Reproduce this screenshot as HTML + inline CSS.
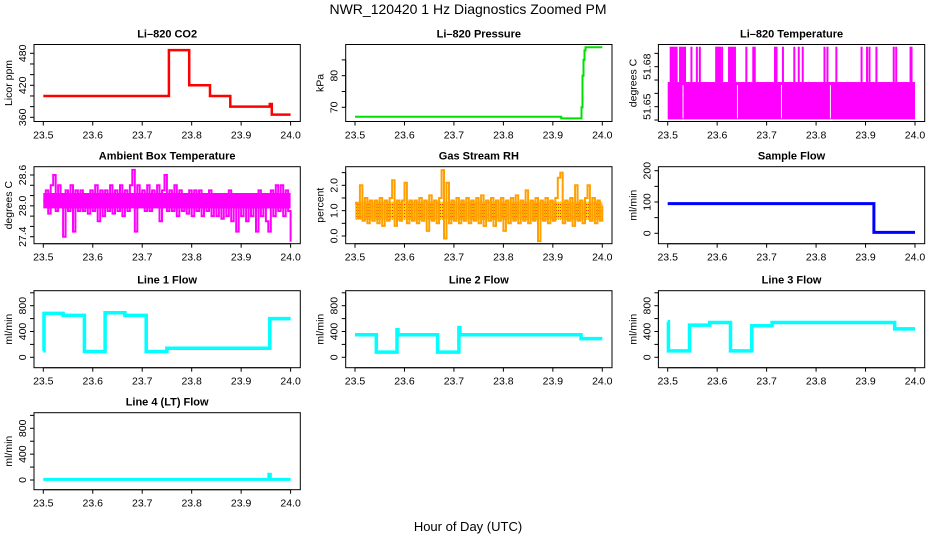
<!DOCTYPE html>
<html><head><meta charset="utf-8"><style>
html,body{margin:0;padding:0;background:#fff}
svg{display:block;font-family:"Liberation Sans",sans-serif}
</style></head><body>
<svg id="c" width="936" height="540" viewBox="0 0 936 540">
<defs>
<pattern id="rhpat" width="2" height="3" patternUnits="userSpaceOnUse"><rect width="2" height="3" fill="#ffd700"/><rect width="1" height="1" fill="#ff3000"/></pattern>
</defs>
<text x="468" y="14" text-anchor="middle" font-size="14">NWR_120420  1 Hz Diagnostics Zoomed PM</text>
<text x="468" y="531" text-anchor="middle" font-size="13">Hour of Day (UTC)</text>
</svg>
<script>
// ---- data ----
const xTicks=[23.5,23.6,23.7,23.8,23.9,24.0];
const xTickLabels=["23.5","23.6","23.7","23.8","23.9","24.0"];
const co2Times=[23.5,23.754,23.795,23.837,23.878,23.958,23.962];
const co2Vals=[400,486,420,400,380,385,365];
const presTimes=[23.5,23.917,23.958,23.96,23.962,23.964,23.966];
const presVals=[67,66.5,70,80,85,88,89];
const tempLow=51.6405, tempMid=51.6685, tempHigh=51.695;
const tempSpikes=[23.506,23.509,23.5115,23.515,23.518,23.525,23.528,23.532,23.535,23.548,23.559,23.565,23.598,23.601,23.603,23.606,23.610,23.624,23.628,23.632,23.636,23.659,23.673,23.676,23.717,23.720,23.733,23.756,23.765,23.773,23.817,23.823,23.841,23.892,23.903,23.908,23.922,23.957,23.962,23.991,23.993];
const tempGaps=[23.531,23.641,23.730,23.829];
const ambCore=[27.95,28.25];
const ambVals=[28.1,28.3,27.85,28.4,28.6,27.9,28.4,28.0,27.4,28.3,
27.9,28.4,27.5,28.3,27.9,28.3,27.9,28.2,27.85,28.3,
27.9,28.4,27.7,28.3,27.8,28.3,27.9,28.4,27.85,28.3,
27.9,28.4,27.8,28.3,27.9,28.4,28.7,27.5,28.4,28.0,
28.3,27.9,28.4,27.9,28.3,28.0,28.4,27.7,28.3,28.6,
27.9,28.3,27.9,28.4,27.8,28.3,27.9,28.2,27.85,28.3,
27.8,28.3,27.9,28.3,27.8,28.2,27.9,28.3,27.8,28.2,
27.8,28.2,27.75,28.2,27.8,28.3,27.7,28.2,27.5,28.2,
27.8,28.2,27.7,28.2,27.8,28.2,27.5,28.3,27.8,28.2,
27.7,27.5,28.3,27.8,28.4,27.9,28.4,27.8,28.3,27.9,27.3];
const rhCore=[0.65,1.35];
const rhVals=[1.3,0.7,2.0,0.6,1.5,0.5,1.4,0.6,1.4,0.5,
1.5,0.4,1.4,0.6,1.5,2.2,0.4,1.4,0.6,1.4,
2.1,0.5,1.4,0.6,1.4,0.5,1.5,0.6,1.4,0.2,
1.6,0.6,1.4,0.5,1.5,2.6,-0.1,2.1,0.5,1.4,
0.6,1.5,0.5,1.4,0.6,1.5,0.5,1.4,0.6,1.5,
0.5,1.6,0.4,1.4,0.6,1.5,0.4,1.4,0.6,1.5,
0.2,1.4,0.5,1.5,0.6,1.6,0.5,1.4,0.6,1.8,
0.5,1.4,0.6,1.5,-0.2,1.4,0.6,1.5,0.5,1.4,
0.6,1.5,2.3,2.5,0.5,1.4,0.6,1.5,0.4,2.0,
0.6,1.4,0.5,1.5,2.0,0.6,1.5,0.5,1.4,0.6,1.2];
const sfTimes=[23.5,23.917];
const sfVals=[95,3];
const l1Times=[23.5,23.5015,23.54,23.583,23.625,23.665,23.708,23.75,23.958];
const l1Vals=[100,680,650,90,690,650,90,140,600];
const l2Times=[23.5,23.543,23.585,23.587,23.667,23.710,23.712,23.957];
const l2Vals=[350,80,430,350,80,460,350,290];
const l3Times=[23.5,23.5015,23.544,23.585,23.627,23.670,23.711,23.959];
const l3Vals=[550,100,500,540,100,490,540,440];
const l4Times=[23.5,23.956,23.959];
const l4Vals=[10,90,10];

const NS="http://www.w3.org/2000/svg";
const svg=document.getElementById('c');
function el(tag,attrs,parent){const e=document.createElementNS(NS,tag);for(const k in attrs)e.setAttribute(k,attrs[k]);(parent||svg).appendChild(e);return e;}
const colX0=[43.3,355,667.7], XW=247.3;
const rowTop=[44.5,166.7,290.7,412.7], BH=77;
let pid=0;
function makePanel(name,title,ylab,col,row,v1,p1,v2,p2,ticks,labels){
  const x0=colX0[col];
  const xs=t=>x0+(t-23.5)/0.5*XW;
  const ys=v=>p1+(v-v1)*(p2-p1)/(v2-v1);
  const bl=x0-9.3,br=x0+257,bt=rowTop[row],bb=bt+BH;
  const g=el('g',{});
  
  
  pid++;
  const cp=el('clipPath',{id:'cp'+pid},g);
  el('rect',{x:bl,y:bt,width:br-bl,height:BH},cp);
  const plot=el('g',{'clip-path':'url(#cp'+pid+')'},g);
  
  
  const t=el('text',{x:(bl+br)/2,y:bt-7,'text-anchor':'middle','font-size':11,'font-weight':'bold'},g);
  t.textContent=title;
  
  
  const box=el('rect',{x:bl,y:bt,width:br-bl,height:BH,fill:'none',stroke:'#000','stroke-width':1},g);
  
  
  el('line',{x1:xs(23.5),x2:xs(24),y1:bb,y2:bb,stroke:'#000'},g);
  xTicks.forEach((v,i)=>{
    el('line',{x1:xs(v),x2:xs(v),y1:bb,y2:bb+4,stroke:'#000'},g);
    const tl=el('text',{x:xs(v),y:bb+17,'text-anchor':'middle','font-size':10.5},g);
    tl.textContent=xTickLabels[i];
    
    
  });
  el('line',{x1:bl,x2:bl,y1:ys(ticks[0]),y2:ys(ticks[ticks.length-1]),stroke:'#000'},g);
  ticks.forEach(v=>{el('line',{x1:bl-4,x2:bl,y1:ys(v),y2:ys(v),stroke:'#000'},g);});
  labels.forEach(v=>{
    const yy=ys(v),xx=bl-8;
    const tl=el('text',{x:xx,y:yy,'text-anchor':'middle','font-size':10.5,transform:`rotate(-90 ${xx} ${yy})`},g);
    tl.textContent=typeof v==='number'?String(v):v;
    
    
  });
  const yt=el('text',{x:bl-22,y:bt+BH/2,'text-anchor':'middle','font-size':10.5,transform:`rotate(-90 ${bl-22} ${bt+BH/2})`},g);
  yt.textContent=ylab;
  
  
  return {xs,ys,plot};
}
function stepPath(P,times,vals,color,w){
  let d='';
  times.forEach((t,i)=>{const x=P.xs(t),y=P.ys(vals[i]);d+=(i?'L':'M')+x.toFixed(1)+' '+(i?P.ys(vals[i-1]).toFixed(1):y.toFixed(1))+(i?'L'+x.toFixed(1)+' '+y.toFixed(1):'');});
  d+='L'+P.xs(24).toFixed(1)+' '+P.ys(vals[vals.length-1]).toFixed(1);
  const p=el('path',{d:d,fill:'none',stroke:color,'stroke-width':w},P.plot);
  
  
}
function noisePath(P,vals,color,w){
  const n=vals.length-1;
  let d='';
  vals.forEach((v,i)=>{const x=P.xs(23.5+0.5*i/n).toFixed(1),y=P.ys(v).toFixed(1);
    if(i===0)d+='M'+x+' '+y;else d+='L'+x+' '+P.ys(vals[i-1]).toFixed(1)+'L'+x+' '+y;});
  const p=el('path',{d:d,fill:'none',stroke:color,'stroke-width':w},P.plot);
  
  
}
function band(P,lo,hi,fill){
  const r=el('rect',{x:P.xs(23.5),y:P.ys(hi),width:P.xs(24)-P.xs(23.5),height:P.ys(lo)-P.ys(hi),fill:fill},P.plot);
  
  
}
// CO2
let P=makePanel('co2','Li\u2013820 CO2','Licor ppm',0,0,480,53.3,360,117.3,[360,380,400,420,440,460,480],[360,420,480]);
stepPath(P,co2Times,co2Vals,'#ff0000',2.5);
// Pressure
P=makePanel('pressure','Li\u2013820 Pressure','kPa',1,0,70,107.3,80,75.7,[70,75,80,85],[70,80]);
stepPath(P,presTimes,presVals,'#00e000',2);
// Temperature
P=makePanel('li820-temp','Li\u2013820 Temperature','degrees C',2,0,51.65,106.7,51.68,66.7,[51.64,51.65,51.66,51.67,51.68,51.69],["51.65","51.68"]);
band(P,tempLow,tempMid,'#ff00ff');
tempSpikes.forEach(t=>{const l=el('line',{x1:P.xs(t),x2:P.xs(t),y1:P.ys(tempMid),y2:P.ys(tempHigh),stroke:'#ff00ff','stroke-width':2},P.plot);

});
tempGaps.forEach(t=>{const l=el('line',{x1:P.xs(t),x2:P.xs(t),y1:P.ys(tempMid)+3,y2:P.ys(tempLow)-1,stroke:'#fff','stroke-width':1},P.plot);

});
// Ambient
P=makePanel('ambient','Ambient Box Temperature','degrees C',0,1,28.6,175,27.4,236.7,[27.4,27.6,27.8,28.0,28.2,28.4,28.6],["27.4","28.0","28.6"]);
band(P,ambCore[0],ambCore[1],'#ff00ff');
noisePath(P,ambVals,'#ff00ff',2);
// RH
P=makePanel('rh','Gas Stream RH','percent',1,1,0,236,2,185.3,[0,0.5,1,1.5,2,2.5],["0.0","1.0","2.0"]);
band(P,rhCore[0],rhCore[1],'url(#rhpat)');
noisePath(P,rhVals,'#ffa000',2);
// Sample flow
P=makePanel('sample-flow','Sample Flow','ml/min',2,1,200,170.7,0,233.3,[0,50,100,150,200],[0,100,200]);
stepPath(P,sfTimes,sfVals,'#0000ff',3);
// Line flows
const ft=[0,200,400,600,800,1000],fl=[0,400,800];
P=makePanel('line1-flow','Line 1 Flow','ml/min',0,2,800,305.7,0,357.3,ft,fl);
stepPath(P,l1Times,l1Vals,'#00ffff',3.5);
P=makePanel('line2-flow','Line 2 Flow','ml/min',1,2,800,305.7,0,357.3,ft,fl);
stepPath(P,l2Times,l2Vals,'#00ffff',3.5);
P=makePanel('line3-flow','Line 3 Flow','ml/min',2,2,800,305.7,0,357.3,ft,fl);
stepPath(P,l3Times,l3Vals,'#00ffff',3.5);
P=makePanel('line4-flow','Line 4 (LT) Flow','ml/min',0,3,800,428.3,0,480,ft,fl);
stepPath(P,l4Times,l4Vals,'#00ffff',3);
</script>
</body></html>
